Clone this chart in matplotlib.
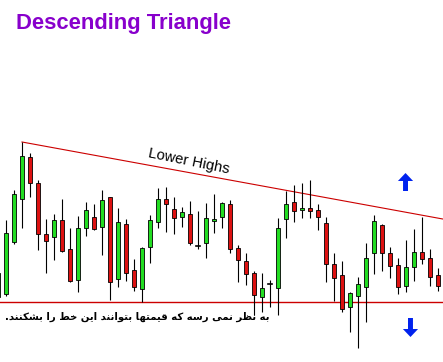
import matplotlib
matplotlib.use("Agg")
import matplotlib.pyplot as plt
from matplotlib.patches import Rectangle, FancyArrow
import numpy as np

# ---- data (vertical values are chart-pixel levels, axis inverted) ----
opens  = [297, 294, 242, 199, 157, 183, 234, 237, 220, 249, 280, 228, 217, 227, 197, 279, 224, 270, 289, 247,
          222, 199, 209, 217, 214, 246, 243, 221, 217, 204, 248, 261, 273, 297, 284, 288, 219, 202, 210, 208,
          210, 223, 264, 275, 307, 296, 287, 253, 225, 253, 265, 286, 267, 252, 258, 275]
highs  = [270, 220, 190, 142, 153, 180, 219, 214, 199, 228, 216, 202, 204, 190, 197, 208, 219, 259, 247, 215,
          188, 187, 197, 207, 201, 211, 203, 194, 202, 200, 245, 253, 271, 273, 280, 218, 191, 185, 183, 180,
          204, 217, 253, 261, 292, 277, 243, 215, 224, 247, 258, 240, 229, 217, 249, 268]
lows   = [300, 296, 244, 228, 197, 250, 273, 260, 252, 282, 292, 236, 230, 255, 300, 287, 281, 291, 302, 263,
          228, 232, 234, 227, 245, 249, 258, 233, 228, 253, 282, 285, 315, 312, 307, 315, 238, 222, 218, 218,
          230, 282, 301, 312, 332, 348, 322, 274, 271, 278, 294, 292, 281, 264, 286, 291]
closes = [273, 233, 194, 156, 183, 234, 241, 220, 251, 281, 228, 210, 229, 200, 282, 222, 273, 287, 248, 220,
          199, 204, 218, 212, 243, 246, 218, 219, 203, 249, 260, 274, 295, 288, 284, 228, 204, 211, 208, 211,
          217, 264, 278, 309, 293, 284, 258, 221, 253, 266, 287, 267, 252, 259, 277, 286]

support_level = 302
trend_index = [3, 53]          # candles whose highs define the descending line
trend_level = [142, 215.2]

title = "Descending Triangle"
trend_label = "Lower Highs"
note_fa = "به نظر نمی رسه که قیمتها بتوانند این خط را بشکنند."

# ---- minimal Arabic/Persian shaping (presentation forms + visual order) ----
FORMS = {
    '\u0627': ('\uFE8D', '\uFE8E'),
    '\u0628': ('\uFE8F', '\uFE90', '\uFE91', '\uFE92'),
    '\u062A': ('\uFE95', '\uFE96', '\uFE97', '\uFE98'),
    '\u062E': ('\uFEA5', '\uFEA6', '\uFEA7', '\uFEA8'),
    '\u062F': ('\uFEA9', '\uFEAA'),
    '\u0631': ('\uFEAD', '\uFEAE'),
    '\u0633': ('\uFEB1', '\uFEB2', '\uFEB3', '\uFEB4'),
    '\u0634': ('\uFEB5', '\uFEB6', '\uFEB7', '\uFEB8'),
    '\u0637': ('\uFEC1', '\uFEC2', '\uFEC3', '\uFEC4'),
    '\u0638': ('\uFEC5', '\uFEC6', '\uFEC7', '\uFEC8'),
    '\u0642': ('\uFED5', '\uFED6', '\uFED7', '\uFED8'),
    '\u0645': ('\uFEE1', '\uFEE2', '\uFEE3', '\uFEE4'),
    '\u0646': ('\uFEE5', '\uFEE6', '\uFEE7', '\uFEE8'),
    '\u0647': ('\uFEE9', '\uFEEA', '\uFEEB', '\uFEEC'),
    '\u0648': ('\uFEED', '\uFEEE'),
    '\u06A9': ('\uFB8E', '\uFB8F', '\uFB90', '\uFB91'),
    '\u06CC': ('\uFBFC', '\uFBFD', '\uFBFE', '\uFBFF'),
}


def shape(text):
    out = []
    n = len(text)
    for k, ch in enumerate(text):
        f = FORMS.get(ch)
        if f is None:
            out.append(ch)
            continue
        prev = text[k - 1] if k > 0 else ''
        nxt = text[k + 1] if k + 1 < n else ''
        jp = prev in FORMS and len(FORMS[prev]) == 4
        jn = len(f) == 4 and nxt in FORMS
        if jp and jn:
            out.append(f[3])
        elif jp:
            out.append(f[1])
        elif jn:
            out.append(f[2])
        else:
            out.append(f[0])
    return ''.join(out)[::-1]


# ---- figure ----
W, H = 443, 362
fig = plt.figure(figsize=(W / 100, H / 100), dpi=100)
ax = fig.add_axes([0, 0, 1, 1])
ax.set_xlim(0.25, 55.625)
ax.set_ylim(H, 0)
ax.axis('off')

green = '#22dd22'
red = '#dd1111'
body_w = 0.56

for i, (o, h, l, c) in enumerate(zip(opens, highs, lows, closes)):
    ax.plot([i, i], [h, l], color='black', lw=0.8, zorder=2, solid_capstyle='butt')
    if o == c:
        ax.plot([i - body_w / 2, i + body_w / 2], [o, o], color='black', lw=1.2, zorder=3)
    else:
        col = green if c < o else red
        ax.add_patch(Rectangle((i - body_w / 2, min(o, c)), body_w, abs(o - c),
                               facecolor=col, edgecolor='black', lw=0.6, zorder=3))

# support and descending resistance
ax.axhline(support_level, color='#cc0000', lw=1.0, zorder=1)
slope = (trend_level[1] - trend_level[0]) / (trend_index[1] - trend_index[0])
x_end = 56
ax.plot([trend_index[0], x_end], [trend_level[0], trend_level[0] + slope * (x_end - trend_index[0])],
        color='#cc0000', lw=0.8, zorder=1)

# arrows
ax.add_patch(FancyArrow(50.94, 191, 0, -18, width=0.62, head_width=1.9, head_length=8,
                        length_includes_head=True, color='#0022ee', lw=0))
ax.add_patch(FancyArrow(51.56, 318, 0, 19, width=0.62, head_width=1.9, head_length=8,
                        length_includes_head=True, color='#0022ee', lw=0))

# texts
ax.text(2.25, 24, title, color='#8800cc', fontsize=15.8, fontweight='bold',
        family='Liberation Sans', ha='left', va='center')
ax.text(23.9, 161, trend_label, color='black', fontsize=10.6, family='Liberation Sans',
        rotation=-11.5, ha='center', va='center', rotation_mode='anchor')
ax.text(0.9, 317, shape(note_fa), color='black', fontsize=7.3, fontweight='bold',
        family='DejaVu Sans', ha='left', va='center')

fig.savefig('out.png', dpi=100, facecolor='white')
